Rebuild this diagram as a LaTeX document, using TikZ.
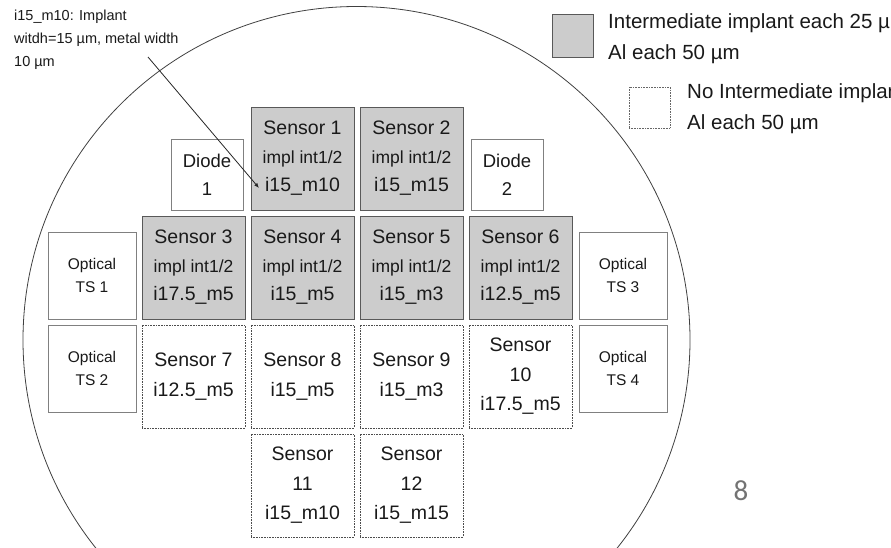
\documentclass[tikz,border=0pt]{standalone}
\usepackage{fontspec}
\setmainfont{Liberation Sans}
\newfontfamily\slidefont{Carlito}
\usetikzlibrary{positioning, arrows.meta}
\definecolor{implgray}{HTML}{CCCCCC}
\colorlet{edgegray}{black!65}
\colorlet{lightedge}{black!50}
\tikzset{
  >=latex, % default arrow head
  box/.style={outer sep=0,inner sep=0,align=center,text=black!90},
  box impl/.style={box,draw=edgegray,fill=implgray,line width=0.9pt,minimum width=103pt,minimum height=103pt,font=\fontsize{19.5}{28.5}\selectfont},
  box open/.style={box,draw=black!70,densely dotted,line width=0.6pt,minimum width=103pt,minimum height=103pt,font=\fontsize{19.5}{29.5}\selectfont},
  box diode/.style={box,draw=lightedge,line width=0.9pt,minimum width=72pt,minimum height=71pt,font=\fontsize{18.5}{28}\selectfont},
  box optical/.style={box,draw=lightedge,line width=0.9pt,minimum width=88pt,minimum height=87pt,font=\fontsize{15.5}{23}\selectfont},
  legend/.style={align=left,inner sep=0,anchor=west,font=\fontsize{20.5}{31}\selectfont,text=black!90},
  note arrow/.style={-{Latex[length=5pt,width=4pt]},line width=0.8pt,black!85}
}
\newcommand{\implline}{{\fontsize{17.5}{28.5}\selectfont impl int1/2}}

\begin{document}
\begin{tikzpicture}[x=1pt,y=-1pt]
  \useasboundingbox (0,0) rectangle (891,547);
  \clip (0,0) rectangle (891,547);

  % wafer
  \draw[black!75,line width=0.8pt] (356.5,340) circle[radius=333.5];

  % sensors with intermediate implant
  \node[box impl] (s4) at (302.5,267.5) {Sensor 4\\\implline\\i15\_m5};
  \node[box impl, left=6pt of s4] (s3) {Sensor 3\\\implline\\i17.5\_m5};
  \node[box impl, right=6pt of s4] (s5) {Sensor 5\\\implline\\i15\_m3};
  \node[box impl, right=6pt of s5] (s6) {Sensor 6\\\implline\\i12.5\_m5};
  \node[box impl, above=6pt of s4] (s1) {Sensor 1\\\implline\\i15\_m10};
  \node[box impl, above=6pt of s5] (s2) {Sensor 2\\\implline\\i15\_m15};

  % sensors without intermediate implant
  \node[box open, below=6pt of s3] (s7) {Sensor 7\\i12.5\_m5};
  \node[box open, below=6pt of s4] (s8) {Sensor 8\\i15\_m5};
  \node[box open, below=6pt of s5] (s9) {Sensor 9\\i15\_m3};
  \node[box open, below=6pt of s6] (s10) {Sensor\\10\\i17.5\_m5};
  \node[box open, below=6pt of s8] (s11) {Sensor\\11\\i15\_m10};
  \node[box open, below=6pt of s9] (s12) {Sensor\\12\\i15\_m15};

  % diodes
  \node[box diode, above=6pt of s3.north east, anchor=south east, xshift=-2pt] (d1) {Diode\\1};
  \node[box diode, above=6pt of s6.north west, anchor=south west, xshift=2pt] (d2) {Diode\\2};

  % optical test structures
  \node[box optical, left=6pt of s3.south west, anchor=south east] (ts1) {Optical\\TS 1};
  \node[box optical, left=6pt of s7.north west, anchor=north east] (ts2) {Optical\\TS 2};
  \node[box optical, right=7pt of s6.south east, anchor=south west] (ts3) {Optical\\TS 3};
  \node[box optical, right=7pt of s10.north east, anchor=north west] (ts4) {Optical\\TS 4};

  % legend
  \node[fill=implgray,draw=edgegray,line width=0.9pt,minimum width=41pt,minimum height=43pt,inner sep=0,outer sep=0] (leg impl) at (572.5,35.5) {};
  \node[legend, right=15pt of leg impl, yshift=-3pt] (leg impl text) {Intermediate implant each 25 µm\\Al each 50 µm};
  \node[draw=black!60,densely dotted,line width=0.6pt,minimum width=41pt,minimum height=41pt,inner sep=0,outer sep=0] (leg open) at (649.5,107.5) {};
  \node[legend, right=17pt of leg open, yshift=-1pt] (leg open text) {No Intermediate implant\\Al each 50 µm};

  % note on naming
  \node[align=left,inner sep=0,anchor=west,font=\fontsize{14.5}{23}\selectfont,text=black!90] (note) at (14,40) {i15\_m10: Implant\\witdh=15 µm, metal width\\10 µm};
  \coordinate (note tail) at (148,57);
  \coordinate (note tip) at (259,188);
  \draw[note arrow] (note tail) -- (note tip);

  % slide number
  \node[font=\slidefont\fontsize{29}{30}\selectfont,text=black!55] (page) at (741,491) {8};

\end{tikzpicture}
\end{document}
